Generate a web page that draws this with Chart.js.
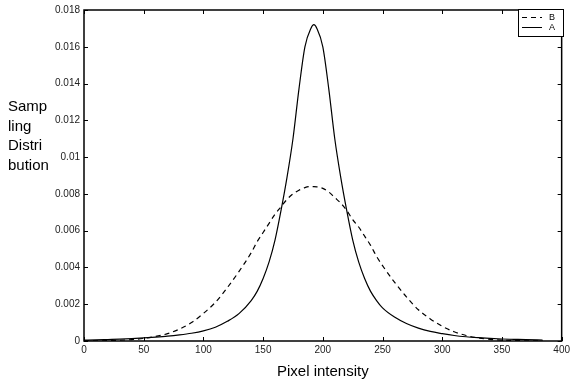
<!DOCTYPE html>
<html>
<head>
<meta charset="utf-8">
<script src="https://cdn.jsdelivr.net/npm/chart.js@4"></script>
<style>
  html, body { margin: 0; padding: 0; background: #fff; }
  #wrap { width: 573px; height: 384px; }
</style>
</head>
<body>
<div id="wrap"><canvas id="dist"></canvas></div>
<script>
const intensity = [0, 10, 20, 30, 40, 50, 60, 70, 80, 90, 100, 110, 120, 130, 140,
                   145, 150, 155, 160, 165, 170, 175, 180, 185, 190, 192.5,
                   195, 200, 205, 210, 215, 220, 225, 230, 235, 240, 245,
                   250, 260, 270, 280, 290, 300, 310, 320, 330, 340, 350, 360, 370, 384];
// A: sharp solid curve
const seriesA = [0.00005, 0.00006, 0.00008, 0.0001, 0.00013, 0.00017, 0.00021, 0.00026, 0.00033, 0.00042,
                 0.00055, 0.00075, 0.00107, 0.0015, 0.0022,
                 0.0027, 0.0034, 0.0043, 0.0055, 0.0071, 0.0089, 0.011, 0.0137, 0.016, 0.017, 0.0172,
                 0.017, 0.016, 0.0137, 0.011, 0.0089, 0.0071, 0.0055, 0.0043, 0.0034, 0.0027, 0.0022,
                 0.0018, 0.0013, 0.00095, 0.0007, 0.00052, 0.0004, 0.0003, 0.00023, 0.00018, 0.00014,
                 0.00011, 0.00009, 0.00007, 0.00005];
// B: wide dashed curve
const seriesB = [0.000005, 0.00001, 0.00002, 0.00004, 0.00008, 0.00014, 0.00025, 0.0004, 0.00065, 0.001,
                 0.0015, 0.0021, 0.0029, 0.0038, 0.0048,
                 0.0054, 0.0059, 0.0064, 0.0069, 0.0073, 0.0077, 0.008, 0.0082, 0.00834, 0.0084, 0.0084,
                 0.00838, 0.0083, 0.0081, 0.0078, 0.0075, 0.0071, 0.0066, 0.0062, 0.0057, 0.0052, 0.0046,
                 0.0041, 0.0032, 0.0024, 0.0017, 0.0012, 0.0008, 0.0005, 0.0003, 0.00017, 0.00009,
                 0.00005, 0.00003, 0.00001, 0.000005];
const xTicks = [0, 50, 100, 150, 200, 250, 300, 350, 400];
const yTicks = [0, 0.002, 0.004, 0.006, 0.008, 0.01, 0.012, 0.014, 0.016, 0.018];
const yTitle = ["Samp", "ling", "Distri", "bution"];

const FONT = "'Liberation Sans', Arial, sans-serif";
const pts = arr => intensity.map((x, i) => ({ x: x, y: arr[i] }));

// box, inward ticks, side title and legend, drawn the matlab way
const boxPlugin = {
  id: 'box',
  afterDraw(chart) {
    const ctx = chart.ctx, a = chart.chartArea;
    const xs = chart.scales.x, ys = chart.scales.y;
    ctx.save();
    ctx.strokeStyle = '#000';
    ctx.lineWidth = 1;
    ctx.beginPath();
    xTicks.forEach(v => {
      const p = Math.round(xs.getPixelForValue(v)) + 0.5;
      ctx.moveTo(p, a.bottom); ctx.lineTo(p, a.bottom - 4);
      ctx.moveTo(p, a.top); ctx.lineTo(p, a.top + 4);
    });
    yTicks.forEach(v => {
      const p = Math.round(ys.getPixelForValue(v)) + 0.5;
      ctx.moveTo(a.left, p); ctx.lineTo(a.left + 4, p);
      ctx.moveTo(a.right, p); ctx.lineTo(a.right - 4, p);
    });
    ctx.stroke();
    ctx.lineWidth = 1.5;
    ctx.strokeRect(a.left, a.top, a.right - a.left, a.bottom - a.top);

    // y title, stacked words
    ctx.fillStyle = '#000';
    ctx.font = '15px ' + FONT;
    ctx.textAlign = 'left';
    ctx.textBaseline = 'middle';
    yTitle.forEach((w, i) => ctx.fillText(w, 8, 107 + i * 19.5));

    // legend box, top right, B listed first
    const lx = 518, ly = 9.5, lw = 45, lh = 27;
    ctx.fillStyle = '#fff';
    ctx.fillRect(lx, ly, lw, lh);
    ctx.lineWidth = 1;
    ctx.strokeRect(lx + 0.5, ly, lw, lh);
    const order = [1, 0];
    ctx.font = '9px ' + FONT;
    order.forEach((di, i) => {
      const ds = chart.data.datasets[di];
      const yy = ly + 8 + i * 10;
      ctx.setLineDash(ds.borderDash || []);
      ctx.beginPath();
      ctx.moveTo(lx + 4, yy); ctx.lineTo(lx + 24, yy);
      ctx.stroke();
      ctx.setLineDash([]);
      ctx.fillStyle = '#000';
      ctx.fillText(ds.label, lx + 31, yy);
    });
    ctx.restore();
  }
};

new Chart(document.getElementById('dist'), {
  type: 'line',
  data: {
    datasets: [
      { label: 'A', data: pts(seriesA), borderColor: '#000', borderWidth: 1.2,
        pointRadius: 0, cubicInterpolationMode: 'monotone', fill: false },
      { label: 'B', data: pts(seriesB), borderColor: '#000', borderWidth: 1.2, borderDash: [5, 4],
        pointRadius: 0, cubicInterpolationMode: 'monotone', fill: false }
    ]
  },
  options: {
    responsive: true,
    maintainAspectRatio: false,
    animation: false,
    layout: { padding: { top: 9, right: 8, left: 0, bottom: 0 } },
    plugins: { legend: { display: false }, tooltip: { enabled: false } },
    scales: {
      x: {
        type: 'linear', min: 0, max: 400,
        afterBuildTicks: s => { s.ticks = xTicks.map(v => ({ value: v })); },
        afterFit: s => { s.height = 43; },
        grid: { display: false, drawTicks: false },
        border: { display: false },
        ticks: { color: '#222', font: { family: FONT, size: 10 }, padding: 3, maxRotation: 0 },
        title: { display: true, text: 'Pixel intensity', color: '#000',
                 font: { family: FONT, size: 15 }, padding: { top: 6, bottom: 3 } }
      },
      y: {
        type: 'linear', min: 0, max: 0.018,
        afterBuildTicks: s => { s.ticks = yTicks.map(v => ({ value: v })); },
        afterFit: s => { s.width = 84; },
        grid: { display: false, drawTicks: false },
        border: { display: false },
        ticks: { color: '#222', font: { family: FONT, size: 10 }, padding: 4,
                 callback: v => String(+v.toFixed(3)) }
      }
    }
  },
  plugins: [boxPlugin]
});
</script>
</body>
</html>
